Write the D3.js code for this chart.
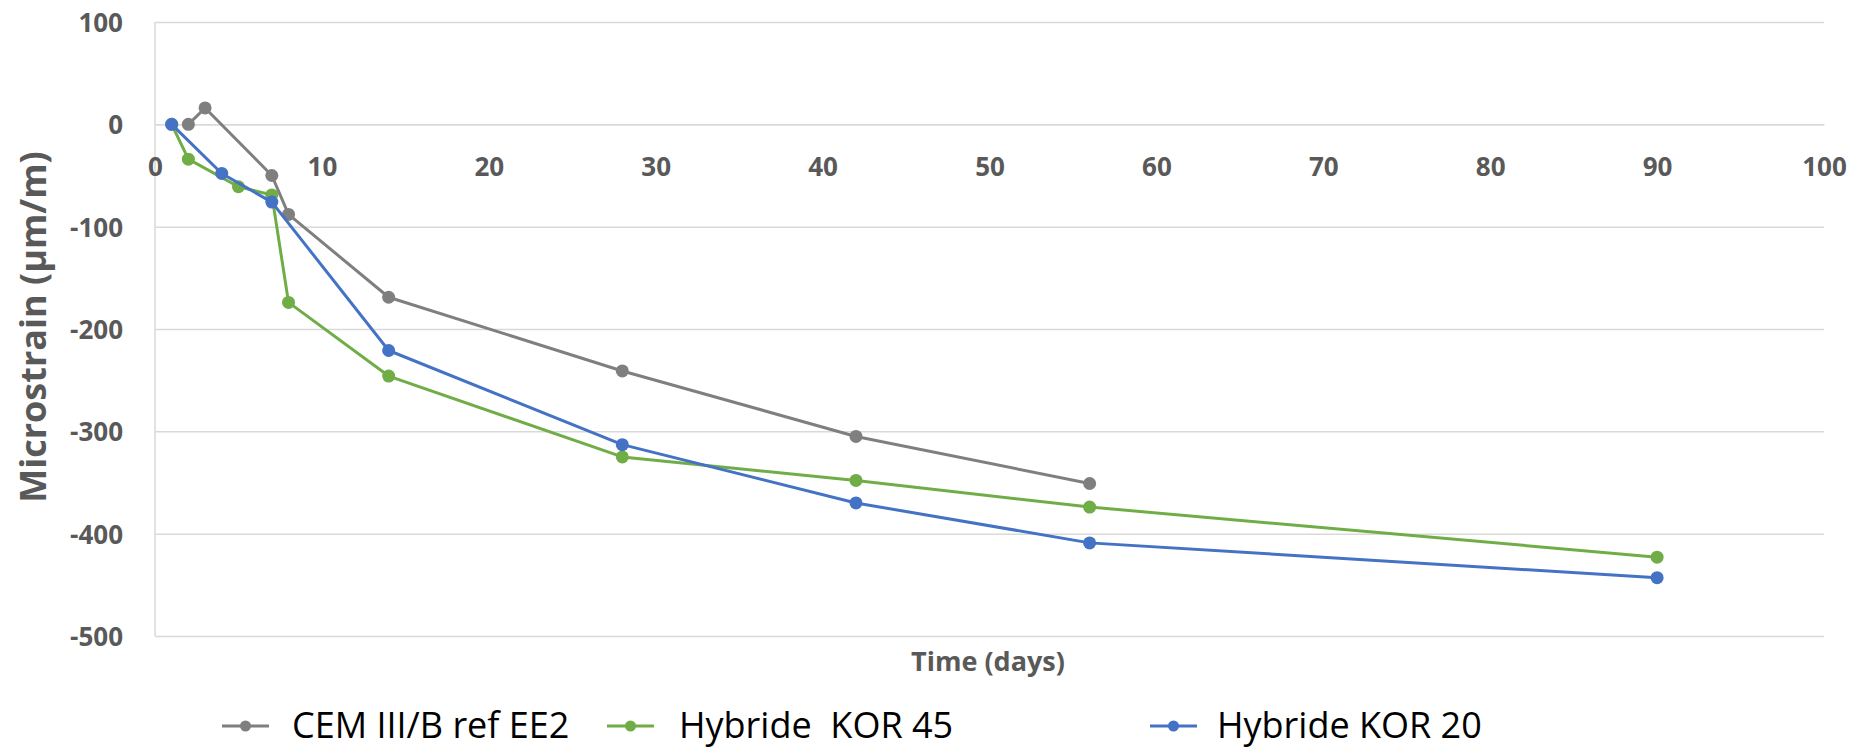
<!DOCTYPE html>
<html>
<head>
<meta charset="utf-8">
<script src="https://cdn.jsdelivr.net/npm/d3@7"></script>
<style>
  html, body { margin: 0; padding: 0; background: #fff; }
  svg { display: block; }
</style>
</head>
<body>
<svg id="chart" width="1874" height="750"></svg>
<script>
// Shrinkage measurements (microstrain) over time for three mixes
const seriesNames = ["CEM III/B ref EE2", "Hybride  KOR 45", "Hybride KOR 20"];
const seriesColors = ["#7f7f7f", "#70ad47", "#4472c4"];

const cemDays   = [2, 3, 7, 8, 14, 28, 42, 56];
const cemStrain = [0, 16, -50, -88, -169, -241, -305, -351];

const kor45Days   = [1, 2, 5, 7, 8, 14, 28, 42, 56, 90];
const kor45Strain = [0, -34, -61, -69, -174, -246, -325, -348, -374, -423];

const kor20Days   = [1, 4, 7, 14, 28, 42, 56, 90];
const kor20Strain = [0, -48, -76, -221, -313, -370, -409, -443];

const xTicks = [0, 10, 20, 30, 40, 50, 60, 70, 80, 90, 100];
const yTicks = [100, 0, -100, -200, -300, -400, -500];

const xTitle = "Time (days)";
const yTitle = "Microstrain (\u00b5m/m)";

const series = [
  { name: seriesNames[0], color: seriesColors[0], pts: cemDays.map((d, i) => [d, cemStrain[i]]) },
  { name: seriesNames[1], color: seriesColors[1], pts: kor45Days.map((d, i) => [d, kor45Strain[i]]) },
  { name: seriesNames[2], color: seriesColors[2], pts: kor20Days.map((d, i) => [d, kor20Strain[i]]) }
];

const svg = d3.select("#chart");
const plot = { left: 155, right: 1824, top: 22, bottom: 636 };

const x = d3.scaleLinear().domain([0, 100]).range([plot.left, plot.right]);
const y = d3.scaleLinear().domain([-500, 100]).range([plot.bottom, plot.top]);

const labelColor = "#595959";
const gridColor = "#d9d9d9";
const plainNumber = d => String(d);

// Horizontal gridlines with value labels on the left
const yAxis = svg.append("g")
  .attr("transform", `translate(${plot.left},0)`)
  .call(d3.axisLeft(y).tickValues(yTicks).tickSize(-(plot.right - plot.left)).tickPadding(32).tickFormat(plainNumber));
yAxis.select(".domain").remove();
yAxis.selectAll(".tick line").attr("stroke", gridColor).attr("stroke-width", 1.5);
yAxis.selectAll(".tick text")
  .attr("fill", labelColor)
  .style("font-family", "'Open Sans', sans-serif")
  .style("font-weight", "700")
  .style("font-size", "26px")
  .attr("dy", "0.36em");

// Vertical axis line
svg.append("line")
  .attr("x1", plot.left).attr("x2", plot.left)
  .attr("y1", plot.top).attr("y2", plot.bottom)
  .attr("stroke", gridColor).attr("stroke-width", 1.5);

// Horizontal axis crosses at zero; labels sit just below it
const xAxis = svg.append("g")
  .attr("transform", `translate(0,${y(0)})`)
  .call(d3.axisBottom(x).tickValues(xTicks).tickSize(0).tickFormat(plainNumber));
xAxis.select(".domain").attr("stroke", gridColor).attr("stroke-width", 1.5);
xAxis.selectAll(".tick text")
  .attr("fill", labelColor)
  .attr("y", 52)
  .attr("dy", null)
  .style("font-family", "'Open Sans', sans-serif")
  .style("font-weight", "700")
  .style("font-size", "26px");

// Axis titles
svg.append("text")
  .attr("x", 988)
  .attr("y", 671)
  .attr("text-anchor", "middle")
  .attr("fill", labelColor)
  .style("font-family", "'Open Sans', sans-serif")
  .style("font-weight", "700")
  .style("font-size", "27px")
  .text(xTitle);

svg.append("text")
  .attr("transform", "translate(46,327) rotate(-90)")
  .attr("text-anchor", "middle")
  .attr("fill", labelColor)
  .style("font-family", "'Open Sans', sans-serif")
  .style("font-weight", "700")
  .style("font-size", "36px")
  .text(yTitle);

// Series lines and markers
const line = d3.line().x(d => x(d[0])).y(d => y(d[1]));
const g = svg.append("g");
series.forEach(s => {
  g.append("path")
    .datum(s.pts)
    .attr("d", line)
    .attr("fill", "none")
    .attr("stroke", s.color)
    .attr("stroke-width", 3)
    .attr("stroke-linejoin", "round");
  g.selectAll(null)
    .data(s.pts)
    .enter().append("circle")
    .attr("cx", d => x(d[0]))
    .attr("cy", d => y(d[1]))
    .attr("r", 6.5)
    .attr("fill", s.color);
});

// Legend
const legendItems = [
  { lineStart: 222, textX: 292 },
  { lineStart: 607, textX: 679 },
  { lineStart: 1150, textX: 1217 }
];
const legendY = 726;
series.forEach((s, i) => {
  const li = legendItems[i];
  const lg = svg.append("g");
  lg.append("line")
    .attr("x1", li.lineStart).attr("x2", li.lineStart + 47)
    .attr("y1", legendY).attr("y2", legendY)
    .attr("stroke", s.color).attr("stroke-width", 3);
  lg.append("circle")
    .attr("cx", li.lineStart + 23.5).attr("cy", legendY)
    .attr("r", 5.5).attr("fill", s.color);
  lg.append("text")
    .attr("x", li.textX)
    .attr("y", 738)
    .attr("fill", "#000")
    .style("white-space", "pre")
    .style("font-family", "'Open Sans', sans-serif")
    .style("font-size", "36px")
    .text(s.name);
});
</script>
</body>
</html>
